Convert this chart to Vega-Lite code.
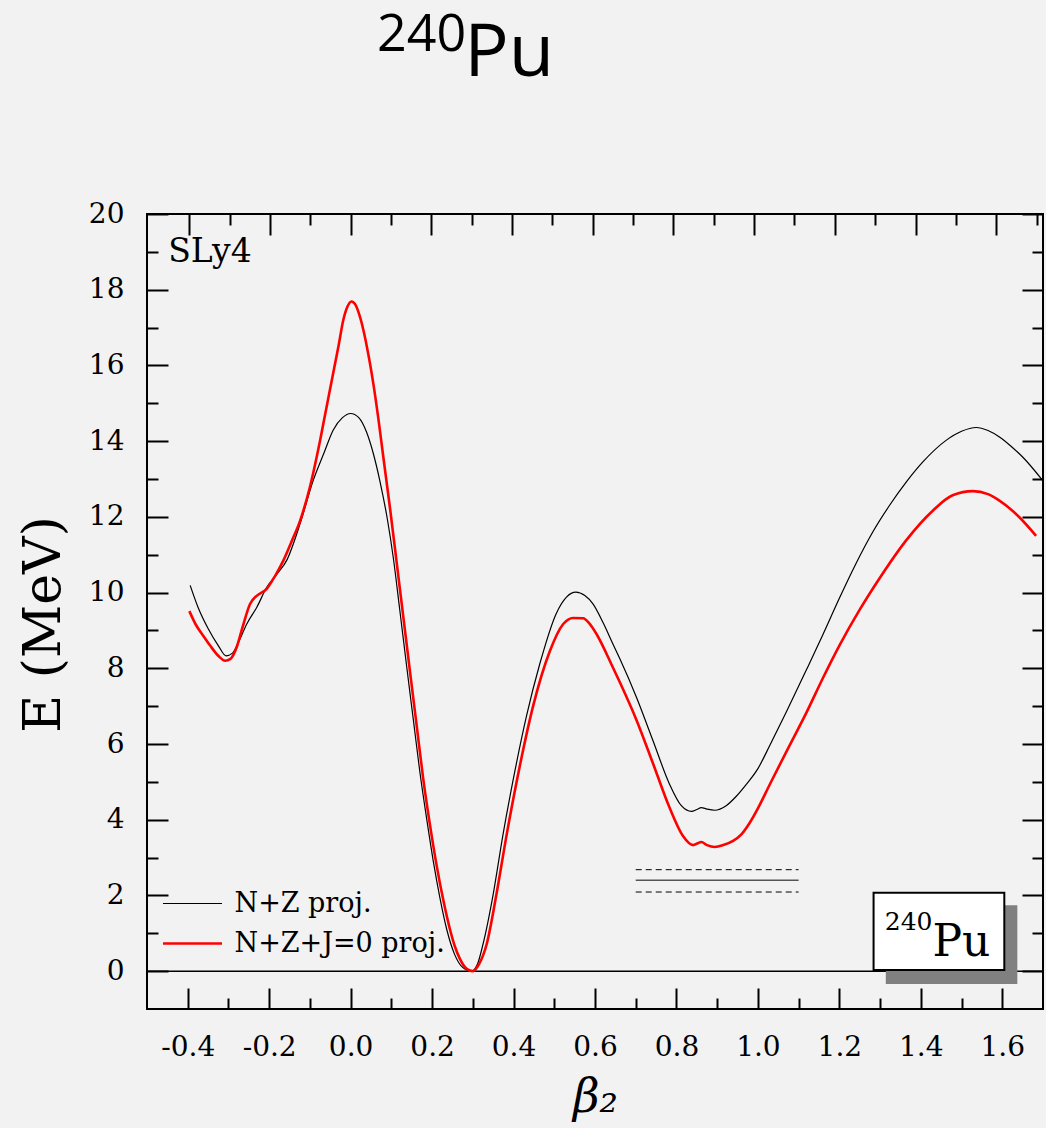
{
  "$schema": "https://vega.github.io/schema/vega-lite/v6.json",
  "width": 896,
  "height": 795,
  "autosize": {"type": "none"},
  "padding": {"left": 147, "top": 214, "right": 3, "bottom": 119},
  "background": "#f2f2f2",
  "config": {
    "view": {"stroke": "black", "strokeWidth": 2, "fill": "#f2f2f2"},
    "font": "DejaVu Serif",
    "axis": {
      "grid": false, "domain": false, "tickColor": "black", "tickWidth": 2, "tickCap": "butt",
      "labelFont": "DejaVu Serif", "labelFontSize": 28, "labelColor": "black",
      "labelFlush": false, "labelOverlap": false,
      "titleFont": "DejaVu Serif", "titleFontWeight": "normal", "titleColor": "black"
    },
    "legend": {
      "orient": "none", "legendX": 32, "legendY": 676, "padding": 0,
      "symbolType": "M-3,0H3", "symbolSize": 387, "labelFont": "DejaVu Serif",
      "labelFontSize": 27, "labelColor": "black", "labelOffset": 28.5, "rowPadding": 12, "labelLimit": 500
    }
  },
  "datasets": {
    "curves": [
      {"beta": -0.394, "E": 10.19, "series": "N+Z proj."},
      {"beta": -0.375, "E": 9.62, "series": "N+Z proj."},
      {"beta": -0.35, "E": 9.05, "series": "N+Z proj."},
      {"beta": -0.325, "E": 8.6, "series": "N+Z proj."},
      {"beta": -0.306, "E": 8.33, "series": "N+Z proj."},
      {"beta": -0.29, "E": 8.4, "series": "N+Z proj."},
      {"beta": -0.275, "E": 8.7, "series": "N+Z proj."},
      {"beta": -0.255, "E": 9.17, "series": "N+Z proj."},
      {"beta": -0.23, "E": 9.62, "series": "N+Z proj."},
      {"beta": -0.206, "E": 10.14, "series": "N+Z proj."},
      {"beta": -0.18, "E": 10.5, "series": "N+Z proj."},
      {"beta": -0.157, "E": 10.85, "series": "N+Z proj."},
      {"beta": -0.124, "E": 11.82, "series": "N+Z proj."},
      {"beta": -0.092, "E": 12.96, "series": "N+Z proj."},
      {"beta": -0.065, "E": 13.7, "series": "N+Z proj."},
      {"beta": -0.043, "E": 14.29, "series": "N+Z proj."},
      {"beta": -0.02, "E": 14.62, "series": "N+Z proj."},
      {"beta": 0.0, "E": 14.73, "series": "N+Z proj."},
      {"beta": 0.02, "E": 14.62, "series": "N+Z proj."},
      {"beta": 0.039, "E": 14.24, "series": "N+Z proj."},
      {"beta": 0.055, "E": 13.7, "series": "N+Z proj."},
      {"beta": 0.072, "E": 12.94, "series": "N+Z proj."},
      {"beta": 0.09, "E": 11.95, "series": "N+Z proj."},
      {"beta": 0.105, "E": 10.9, "series": "N+Z proj."},
      {"beta": 0.12, "E": 9.6, "series": "N+Z proj."},
      {"beta": 0.137, "E": 8.1, "series": "N+Z proj."},
      {"beta": 0.155, "E": 6.55, "series": "N+Z proj."},
      {"beta": 0.17, "E": 5.26, "series": "N+Z proj."},
      {"beta": 0.187, "E": 4.0, "series": "N+Z proj."},
      {"beta": 0.203, "E": 2.9, "series": "N+Z proj."},
      {"beta": 0.219, "E": 1.95, "series": "N+Z proj."},
      {"beta": 0.236, "E": 1.1, "series": "N+Z proj."},
      {"beta": 0.255, "E": 0.45, "series": "N+Z proj."},
      {"beta": 0.275, "E": 0.1, "series": "N+Z proj."},
      {"beta": 0.297, "E": 0.0, "series": "N+Z proj."},
      {"beta": 0.312, "E": 0.2, "series": "N+Z proj."},
      {"beta": 0.325, "E": 0.71, "series": "N+Z proj."},
      {"beta": 0.35, "E": 2.03, "series": "N+Z proj."},
      {"beta": 0.374, "E": 3.6, "series": "N+Z proj."},
      {"beta": 0.399, "E": 5.05, "series": "N+Z proj."},
      {"beta": 0.432, "E": 6.75, "series": "N+Z proj."},
      {"beta": 0.464, "E": 8.1, "series": "N+Z proj."},
      {"beta": 0.505, "E": 9.45, "series": "N+Z proj."},
      {"beta": 0.53, "E": 9.88, "series": "N+Z proj."},
      {"beta": 0.553, "E": 10.01, "series": "N+Z proj."},
      {"beta": 0.575, "E": 9.92, "series": "N+Z proj."},
      {"beta": 0.595, "E": 9.7, "series": "N+Z proj."},
      {"beta": 0.62, "E": 9.2, "series": "N+Z proj."},
      {"beta": 0.644, "E": 8.64, "series": "N+Z proj."},
      {"beta": 0.661, "E": 8.25, "series": "N+Z proj."},
      {"beta": 0.702, "E": 7.23, "series": "N+Z proj."},
      {"beta": 0.742, "E": 6.1, "series": "N+Z proj."},
      {"beta": 0.783, "E": 4.94, "series": "N+Z proj."},
      {"beta": 0.812, "E": 4.37, "series": "N+Z proj."},
      {"beta": 0.837, "E": 4.22, "series": "N+Z proj."},
      {"beta": 0.85, "E": 4.27, "series": "N+Z proj."},
      {"beta": 0.861, "E": 4.32, "series": "N+Z proj."},
      {"beta": 0.875, "E": 4.28, "series": "N+Z proj."},
      {"beta": 0.894, "E": 4.25, "series": "N+Z proj."},
      {"beta": 0.922, "E": 4.37, "series": "N+Z proj."},
      {"beta": 0.947, "E": 4.62, "series": "N+Z proj."},
      {"beta": 0.972, "E": 4.94, "series": "N+Z proj."},
      {"beta": 1.0, "E": 5.35, "series": "N+Z proj."},
      {"beta": 1.03, "E": 5.98, "series": "N+Z proj."},
      {"beta": 1.07, "E": 6.85, "series": "N+Z proj."},
      {"beta": 1.12, "E": 7.98, "series": "N+Z proj."},
      {"beta": 1.16, "E": 8.9, "series": "N+Z proj."},
      {"beta": 1.2, "E": 9.85, "series": "N+Z proj."},
      {"beta": 1.24, "E": 10.75, "series": "N+Z proj."},
      {"beta": 1.282, "E": 11.6, "series": "N+Z proj."},
      {"beta": 1.323, "E": 12.3, "series": "N+Z proj."},
      {"beta": 1.365, "E": 12.93, "series": "N+Z proj."},
      {"beta": 1.405, "E": 13.45, "series": "N+Z proj."},
      {"beta": 1.462, "E": 14.02, "series": "N+Z proj."},
      {"beta": 1.5, "E": 14.26, "series": "N+Z proj."},
      {"beta": 1.536, "E": 14.36, "series": "N+Z proj."},
      {"beta": 1.565, "E": 14.28, "series": "N+Z proj."},
      {"beta": 1.593, "E": 14.11, "series": "N+Z proj."},
      {"beta": 1.62, "E": 13.88, "series": "N+Z proj."},
      {"beta": 1.65, "E": 13.58, "series": "N+Z proj."},
      {"beta": 1.7, "E": 12.95, "series": "N+Z proj."},
      {"beta": -0.396, "E": 9.51, "series": "N+Z+J=0 proj."},
      {"beta": -0.38, "E": 9.15, "series": "N+Z+J=0 proj."},
      {"beta": -0.362, "E": 8.86, "series": "N+Z+J=0 proj."},
      {"beta": -0.345, "E": 8.6, "series": "N+Z+J=0 proj."},
      {"beta": -0.325, "E": 8.33, "series": "N+Z+J=0 proj."},
      {"beta": -0.308, "E": 8.2, "series": "N+Z+J=0 proj."},
      {"beta": -0.295, "E": 8.25, "series": "N+Z+J=0 proj."},
      {"beta": -0.28, "E": 8.55, "series": "N+Z+J=0 proj."},
      {"beta": -0.265, "E": 9.1, "series": "N+Z+J=0 proj."},
      {"beta": -0.247, "E": 9.7, "series": "N+Z+J=0 proj."},
      {"beta": -0.23, "E": 9.92, "series": "N+Z+J=0 proj."},
      {"beta": -0.206, "E": 10.1, "series": "N+Z+J=0 proj."},
      {"beta": -0.185, "E": 10.45, "series": "N+Z+J=0 proj."},
      {"beta": -0.165, "E": 10.85, "series": "N+Z+J=0 proj."},
      {"beta": -0.145, "E": 11.35, "series": "N+Z+J=0 proj."},
      {"beta": -0.124, "E": 11.9, "series": "N+Z+J=0 proj."},
      {"beta": -0.1, "E": 12.79, "series": "N+Z+J=0 proj."},
      {"beta": -0.075, "E": 14.02, "series": "N+Z+J=0 proj."},
      {"beta": -0.06, "E": 14.85, "series": "N+Z+J=0 proj."},
      {"beta": -0.043, "E": 15.79, "series": "N+Z+J=0 proj."},
      {"beta": -0.03, "E": 16.5, "series": "N+Z+J=0 proj."},
      {"beta": -0.018, "E": 17.2, "series": "N+Z+J=0 proj."},
      {"beta": -0.008, "E": 17.55, "series": "N+Z+J=0 proj."},
      {"beta": 0.002, "E": 17.69, "series": "N+Z+J=0 proj."},
      {"beta": 0.012, "E": 17.6, "series": "N+Z+J=0 proj."},
      {"beta": 0.023, "E": 17.28, "series": "N+Z+J=0 proj."},
      {"beta": 0.031, "E": 16.95, "series": "N+Z+J=0 proj."},
      {"beta": 0.045, "E": 16.2, "series": "N+Z+J=0 proj."},
      {"beta": 0.056, "E": 15.5, "series": "N+Z+J=0 proj."},
      {"beta": 0.068, "E": 14.6, "series": "N+Z+J=0 proj."},
      {"beta": 0.08, "E": 13.6, "series": "N+Z+J=0 proj."},
      {"beta": 0.097, "E": 12.2, "series": "N+Z+J=0 proj."},
      {"beta": 0.113, "E": 10.8, "series": "N+Z+J=0 proj."},
      {"beta": 0.13, "E": 9.3, "series": "N+Z+J=0 proj."},
      {"beta": 0.145, "E": 7.98, "series": "N+Z+J=0 proj."},
      {"beta": 0.162, "E": 6.5, "series": "N+Z+J=0 proj."},
      {"beta": 0.178, "E": 5.1, "series": "N+Z+J=0 proj."},
      {"beta": 0.195, "E": 3.85, "series": "N+Z+J=0 proj."},
      {"beta": 0.211, "E": 2.8, "series": "N+Z+J=0 proj."},
      {"beta": 0.228, "E": 1.85, "series": "N+Z+J=0 proj."},
      {"beta": 0.244, "E": 1.1, "series": "N+Z+J=0 proj."},
      {"beta": 0.256, "E": 0.65, "series": "N+Z+J=0 proj."},
      {"beta": 0.268, "E": 0.33, "series": "N+Z+J=0 proj."},
      {"beta": 0.285, "E": 0.06, "series": "N+Z+J=0 proj."},
      {"beta": 0.3, "E": 0.0, "series": "N+Z+J=0 proj."},
      {"beta": 0.315, "E": 0.18, "series": "N+Z+J=0 proj."},
      {"beta": 0.334, "E": 0.71, "series": "N+Z+J=0 proj."},
      {"beta": 0.358, "E": 2.03, "series": "N+Z+J=0 proj."},
      {"beta": 0.383, "E": 3.6, "series": "N+Z+J=0 proj."},
      {"beta": 0.415, "E": 5.4, "series": "N+Z+J=0 proj."},
      {"beta": 0.448, "E": 7.0, "series": "N+Z+J=0 proj."},
      {"beta": 0.489, "E": 8.45, "series": "N+Z+J=0 proj."},
      {"beta": 0.522, "E": 9.17, "series": "N+Z+J=0 proj."},
      {"beta": 0.546, "E": 9.33, "series": "N+Z+J=0 proj."},
      {"beta": 0.571, "E": 9.32, "series": "N+Z+J=0 proj."},
      {"beta": 0.585, "E": 9.2, "series": "N+Z+J=0 proj."},
      {"beta": 0.604, "E": 8.9, "series": "N+Z+J=0 proj."},
      {"beta": 0.644, "E": 8.02, "series": "N+Z+J=0 proj."},
      {"beta": 0.661, "E": 7.63, "series": "N+Z+J=0 proj."},
      {"beta": 0.702, "E": 6.63, "series": "N+Z+J=0 proj."},
      {"beta": 0.742, "E": 5.5, "series": "N+Z+J=0 proj."},
      {"beta": 0.783, "E": 4.32, "series": "N+Z+J=0 proj."},
      {"beta": 0.816, "E": 3.57, "series": "N+Z+J=0 proj."},
      {"beta": 0.841, "E": 3.33, "series": "N+Z+J=0 proj."},
      {"beta": 0.851, "E": 3.37, "series": "N+Z+J=0 proj."},
      {"beta": 0.861, "E": 3.41, "series": "N+Z+J=0 proj."},
      {"beta": 0.875, "E": 3.33, "series": "N+Z+J=0 proj."},
      {"beta": 0.894, "E": 3.28, "series": "N+Z+J=0 proj."},
      {"beta": 0.915, "E": 3.33, "series": "N+Z+J=0 proj."},
      {"beta": 0.939, "E": 3.44, "series": "N+Z+J=0 proj."},
      {"beta": 0.96, "E": 3.62, "series": "N+Z+J=0 proj."},
      {"beta": 0.98, "E": 3.92, "series": "N+Z+J=0 proj."},
      {"beta": 1.0, "E": 4.3, "series": "N+Z+J=0 proj."},
      {"beta": 1.03, "E": 4.95, "series": "N+Z+J=0 proj."},
      {"beta": 1.07, "E": 5.8, "series": "N+Z+J=0 proj."},
      {"beta": 1.12, "E": 6.85, "series": "N+Z+J=0 proj."},
      {"beta": 1.16, "E": 7.75, "series": "N+Z+J=0 proj."},
      {"beta": 1.2, "E": 8.6, "series": "N+Z+J=0 proj."},
      {"beta": 1.25, "E": 9.55, "series": "N+Z+J=0 proj."},
      {"beta": 1.3, "E": 10.4, "series": "N+Z+J=0 proj."},
      {"beta": 1.364, "E": 11.38, "series": "N+Z+J=0 proj."},
      {"beta": 1.43, "E": 12.17, "series": "N+Z+J=0 proj."},
      {"beta": 1.478, "E": 12.57, "series": "N+Z+J=0 proj."},
      {"beta": 1.528, "E": 12.68, "series": "N+Z+J=0 proj."},
      {"beta": 1.565, "E": 12.6, "series": "N+Z+J=0 proj."},
      {"beta": 1.593, "E": 12.43, "series": "N+Z+J=0 proj."},
      {"beta": 1.642, "E": 11.99, "series": "N+Z+J=0 proj."},
      {"beta": 1.683, "E": 11.5, "series": "N+Z+J=0 proj."}
    ],
    "baseline": [{"E": 0}],
    "isomer_err": [{"E": 2.68}, {"E": 2.09}],
    "isomer": [{"E": 2.4}],
    "annot": [{"label": "SLy4"}]
  },
  "layer": [
    {
      "data": {"name": "baseline"},
      "mark": {"type": "rule", "color": "black", "strokeWidth": 1.5},
      "encoding": {
        "x": {"datum": -0.5, "type": "quantitative", "scale": {"domain": [-0.5, 1.7], "nice": false, "zero": false},
          "axis": {"orient": "bottom", "values": [-0.4, -0.2, 0, 0.2, 0.4, 0.6, 0.8, 1.0, 1.2, 1.4, 1.6], "format": ".1f",
            "labelExpr": "replace(datum.label, '−', '-')",
            "tickSize": -21, "labelPadding": 45, "title": "β₂", "titleFontSize": 46, "titleFontStyle": "italic", "titlePadding": 14}},
        "x2": {"datum": 1.7},
        "y": {"field": "E", "type": "quantitative", "scale": {"domain": [-1, 20], "nice": false, "zero": false},
          "axis": {"orient": "left", "values": [0, 2, 4, 6, 8, 10, 12, 14, 16, 18, 20], "format": "d",
            "tickSize": -21, "labelPadding": 44, "title": "E (MeV)", "titleFontSize": 52, "titlePadding": 18, "titleY": 410}}
      }
    },
    {
      "data": {"name": "isomer_err"},
      "mark": {"type": "rule", "color": "black", "strokeWidth": 1, "strokeDash": [6, 4]},
      "encoding": {
        "x": {"datum": 0.7, "type": "quantitative", "scale": {"domain": [-0.5, 1.7], "nice": false, "zero": false},
          "axis": {"orient": "top", "values": [-0.3963, -0.1981, 0, 0.1981, 0.3963, 0.5944, 0.7926, 0.9907, 1.1889, 1.387, 1.5852],
            "tickSize": -21, "labels": false, "title": null}},
        "x2": {"datum": 1.1},
        "y": {"field": "E", "type": "quantitative", "scale": {"domain": [-1, 20], "nice": false, "zero": false},
          "axis": {"orient": "right", "values": [0, 2, 4, 6, 8, 10, 12, 14, 16, 18, 20], "tickSize": -21, "labels": false, "title": null}}
      }
    },
    {
      "data": {"name": "isomer"},
      "mark": {"type": "rule", "color": "#555555", "strokeWidth": 1.5},
      "encoding": {
        "x": {"datum": 0.7, "type": "quantitative", "scale": {"domain": [-0.5, 1.7], "nice": false, "zero": false},
          "axis": {"orient": "top", "values": [-0.2972, -0.0991, 0.0991, 0.2972, 0.4954, 0.6935, 0.8916, 1.0898, 1.2879, 1.4861, 1.6842],
            "tickSize": -11, "labels": false, "title": null}},
        "x2": {"datum": 1.1},
        "y": {"field": "E", "type": "quantitative", "scale": {"domain": [-1, 20], "nice": false, "zero": false},
          "axis": {"orient": "right", "values": [1, 3, 5, 7, 9, 11, 13, 15, 17, 19], "tickSize": -11, "labels": false, "title": null}}
      }
    },
    {
      "data": {"name": "curves"},
      "mark": {"type": "line", "interpolate": "monotone"},
      "encoding": {
        "x": {"field": "beta", "type": "quantitative", "scale": {"domain": [-0.5, 1.7], "nice": false, "zero": false},
          "axis": {"orient": "bottom", "values": [-0.3, -0.1, 0.1, 0.3, 0.5, 0.7, 0.9, 1.1, 1.3, 1.5], "tickSize": -11, "labels": false, "title": null}},
        "y": {"field": "E", "type": "quantitative", "scale": {"domain": [-1, 20], "nice": false, "zero": false},
          "axis": {"orient": "left", "values": [1, 3, 5, 7, 9, 11, 13, 15, 17, 19], "tickSize": -11, "labels": false, "title": null}},
        "color": {"field": "series", "type": "nominal",
          "scale": {"domain": ["N+Z proj.", "N+Z+J=0 proj."], "range": ["black", "#ff0000"]}, "legend": {"title": null}},
        "strokeWidth": {"field": "series", "type": "nominal",
          "scale": {"domain": ["N+Z proj.", "N+Z+J=0 proj."], "range": [1.2, 2.6]}, "legend": {"title": null}}
      }
    },
    {
      "data": {"name": "annot"},
      "mark": {"type": "rect", "fill": "#808080"},
      "encoding": {
        "x": {"datum": 1.314, "type": "quantitative", "axis": null}, "x2": {"datum": 1.637},
        "y": {"datum": 1.74, "type": "quantitative", "axis": null}, "y2": {"datum": -0.34}
      }
    },
    {
      "data": {"name": "annot"},
      "mark": {"type": "rect", "fill": "white", "stroke": "black", "strokeWidth": 2},
      "encoding": {
        "x": {"datum": 1.284, "type": "quantitative", "axis": null}, "x2": {"datum": 1.605},
        "y": {"datum": 2.07, "type": "quantitative", "axis": null}, "y2": {"datum": 0.03}
      }
    },
    {
      "data": {"name": "annot"},
      "mark": {"type": "text", "text": "Pu", "font": "DejaVu Serif", "fontSize": 44, "align": "left", "baseline": "alphabetic", "color": "black"},
      "encoding": {
        "x": {"datum": 1.4286, "type": "quantitative", "axis": null},
        "y": {"datum": 0.4, "type": "quantitative", "axis": null}
      }
    },
    {
      "data": {"name": "annot"},
      "mark": {"type": "text", "text": "240", "font": "DejaVu Serif", "fontSize": 25, "align": "right", "baseline": "alphabetic", "color": "black"},
      "encoding": {
        "x": {"datum": 1.4286, "type": "quantitative", "axis": null},
        "y": {"datum": 1.08, "type": "quantitative", "axis": null}
      }
    },
    {
      "data": {"name": "annot"},
      "mark": {"type": "text", "font": "DejaVu Serif", "fontSize": 33, "align": "left", "baseline": "alphabetic", "color": "black"},
      "encoding": {
        "text": {"field": "label"},
        "x": {"datum": -0.448, "type": "quantitative", "axis": null},
        "y": {"datum": 18.73, "type": "quantitative", "axis": null}
      }
    },
    {
      "data": {"name": "annot"},
      "mark": {"type": "text", "text": "Pu", "font": "Open Sans", "fontSize": 74, "align": "left", "baseline": "alphabetic", "color": "black", "clip": false},
      "encoding": {
        "x": {"datum": 0.279, "type": "quantitative", "axis": null},
        "y": {"datum": 23.65, "type": "quantitative", "axis": null}
      }
    },
    {
      "data": {"name": "annot"},
      "mark": {"type": "text", "text": "240", "font": "Open Sans", "fontSize": 52, "align": "right", "baseline": "alphabetic", "color": "black", "clip": false},
      "encoding": {
        "x": {"datum": 0.284, "type": "quantitative", "axis": null},
        "y": {"datum": 24.31, "type": "quantitative", "axis": null}
      }
    }
  ],
  "resolve": {"axis": {"x": "independent", "y": "independent"}}
}
